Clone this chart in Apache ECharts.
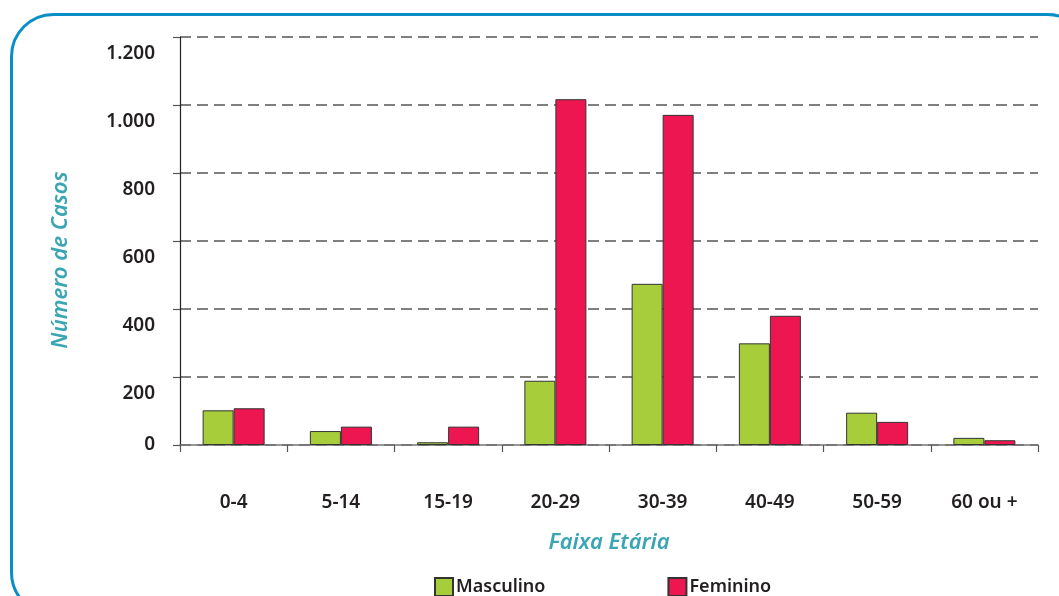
<!DOCTYPE html>
<html>
<head>
<meta charset="utf-8">
<script src="https://cdn.jsdelivr.net/npm/echarts@6/dist/echarts.min.js"></script>
<style>
  html, body { margin: 0; padding: 0; background: #fff; }
  #chart { width: 1059px; height: 596px; }
</style>
</head>
<body>
<div id="chart"></div>
<script>
// Casos por faixa etária e sexo
const faixas = ['0-4', '5-14', '15-19', '20-29', '30-39', '40-49', '50-59', '60 ou +'];
const masculino = [102, 41, 8, 189, 474, 299, 95, 21];
const feminino = [108, 54, 54, 1017, 971, 380, 68, 14];
const yTicks = [0, 200, 400, 600, 800, 1000, 1200];

const FONT = '"Noto Sans", "Open Sans", sans-serif';
const TEAL = '#3aa5b3';
const TEXT = '#231f20';

const chart = echarts.init(document.getElementById('chart'), null, { renderer: 'canvas' });

function milhar(v) {
  return String(v).replace(/\B(?=(\d{3})+(?!\d))/g, '.');
}

chart.setOption({
  animation: false,
  backgroundColor: '#fff',
  textStyle: { fontFamily: FONT },
  graphic: [{
    type: 'rect',
    left: 9, top: 12,
    shape: { width: 1078, height: 600, r: 42 },
    style: { fill: 'none', stroke: '#0a8ec8', lineWidth: 3 },
    z: -1
  }],
  grid: { left: 180, top: 37, right: 21, bottom: 151, containLabel: false },
  legend: {
    left: 429, top: 572,
    itemWidth: 18, itemHeight: 18, itemGap: 122,
    icon: 'rect',
    textStyle: { fontFamily: FONT, fontSize: 18, fontWeight: 600, color: TEXT, padding: [0, 0, 0, -2] },
    data: ['Masculino', 'Feminino']
  },
  xAxis: {
    type: 'category',
    data: faixas,
    boundaryGap: true,
    axisLine: { show: true, lineStyle: { color: '#777', width: 1.5 } },
    axisTick: { show: true, length: 7, lineStyle: { color: '#555', width: 1.2 } },
    axisLabel: { margin: 48, fontFamily: FONT, fontSize: 19, fontWeight: 600, color: TEXT },
    name: 'Faixa Etária',
    nameLocation: 'middle',
    nameGap: 87,
    nameTextStyle: { fontFamily: FONT, fontSize: 22, fontStyle: 'italic', fontWeight: 600, color: TEAL }
  },
  yAxis: {
    type: 'value',
    min: yTicks[0],
    max: yTicks[yTicks.length - 1],
    interval: 200,
    axisLine: { show: true, lineStyle: { color: '#222', width: 1.2 } },
    axisTick: { show: true, length: 7, lineStyle: { color: '#555', width: 1.2 } },
    splitLine: { show: true, lineStyle: { color: '#555', width: 1.5, type: [11, 6] } },
    axisLabel: {
      margin: 25,
      fontFamily: FONT, fontSize: 19, fontWeight: 600, color: TEXT,
      formatter: function (v) {
        return v === 0 ? '{z|0}' : '{n|' + milhar(v) + '}';
      },
      rich: {
        z: { fontFamily: FONT, fontSize: 19, fontWeight: 600, color: TEXT },
        n: { fontFamily: FONT, fontSize: 19, fontWeight: 600, color: TEXT, padding: [34, 0, 0, 0] }
      }
    },
    name: 'Número de Casos',
    nameLocation: 'middle',
    nameGap: 108,
    nameRotate: 90,
    nameTextStyle: {
      fontFamily: FONT, fontSize: 22, fontStyle: 'italic', fontWeight: 600, color: TEAL,
      padding: [0, 38, 0, 0]
    }
  },
  series: [
    {
      name: 'Masculino',
      type: 'bar',
      data: masculino,
      barWidth: 31,
      barGap: '0%',
      itemStyle: { color: '#a8cd3b', borderColor: '#333', borderWidth: 1 }
    },
    {
      name: 'Feminino',
      type: 'bar',
      data: feminino,
      barWidth: 31,
      barGap: '0%',
      itemStyle: { color: '#ed1651', borderColor: '#333', borderWidth: 1 }
    }
  ]
});
</script>
</body>
</html>
